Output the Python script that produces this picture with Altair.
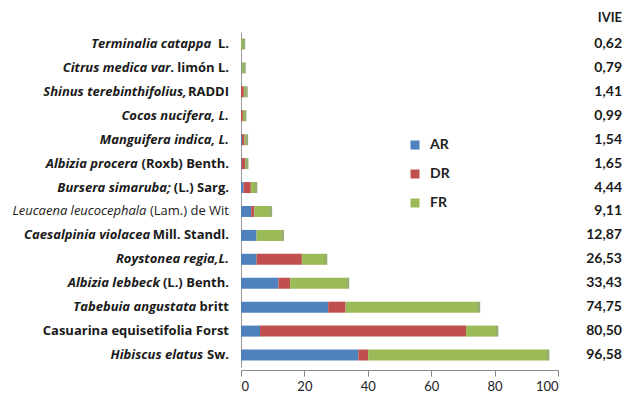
import altair as alt
import pandas as pd

# ---- data ----
keys = ["Terminalia", "Citrus", "Shinus", "Cocos", "Manguifera", "Aprocera", "Bursera",
        "Leucaena", "Caesalpinia", "Roystonea", "Alebbeck", "Tabebuia", "Casuarina", "Hibiscus"]
label_italic = ["Terminalia catappa", "Citrus medica var", "Shinus terebinthifolius,", "Cocos nucifera, L.",
                "Manguifera indica, L.", "Albizia procera", "Bursera simaruba;", "Leucaena leucocephala",
                "Caesalpinia violacea", "Roystonea regia,L.", "Albizia lebbeck", "Tabebuia angustata",
                "", "Hibiscus  elatus"]
label_plain = ["  L.", ". limón L.", "RADDI", "", "", " (Roxb) Benth.", " (L.) Sarg.", " (Lam.) de Wit",
               " Mill. Standl.", "", " (L.) Benth.", " britt", "Casuarina equisetifolia Forst", " Sw."]
label_weight = ["bold"] * 7 + ["normal"] + ["bold"] * 6

AR = [0.0, 0.2, 0.0, 0.0, 0.3, 0.2, 0.8, 3.2, 4.9, 4.9, 11.8, 27.5, 6.0, 37.0]
DR = [0.0, 0.0, 0.9, 0.6, 0.8, 1.1, 2.3, 1.0, 0.0, 14.3, 3.7, 5.5, 65.0, 3.1]
FR = [0.62, 0.59, 0.51, 0.39, 0.44, 0.35, 1.34, 4.91, 7.97, 7.33, 17.93, 41.75, 9.5, 56.48]
IVIE = [0.62, 0.79, 1.41, 0.99, 1.54, 1.65, 4.44, 9.11, 12.87, 26.53, 33.43, 74.75, 80.50, 96.58]
components = ["AR", "DR", "FR"]
colors = ["#4F81BD", "#C0504D", "#9BBB59"]
x_ticks = [0, 20, 40, 60, 80, 100]

# ---- layout helpers ----
W, H = 317, 335
PX = W / 100.0
LFONT = "Open Sans"
FONT = "Lato"
FS = {"bold": 13, "normal": 13}

_w = {'a': .60, 'b': .65, 'c': .51, 'd': .65, 'e': .59, 'f': .40, 'g': .58, 'h': .67, 'i': .29, 'j': .29,
      'k': .62, 'l': .29, 'm': .98, 'n': .67, 'o': .63, 'p': .65, 'q': .65, 'r': .45, 's': .50, 't': .43,
      'u': .67, 'v': .57, 'w': .86, 'x': .59, 'y': .57, 'z': .50, 'ó': .63, ' ': .26, '.': .29, ',': .27,
      ';': .29, '(': .33, ')': .33, 'A': .72, 'B': .68, 'C': .64, 'D': .74, 'E': .56, 'F': .54, 'I': .37,
      'L': .54, 'M': .92, 'R': .67, 'S': .56, 'W': .98, 'T': .57}


def text_width(s, weight):
    k = 0.99 if weight == "bold" else 0.93
    return sum(_w.get(ch, .65) for ch in s) * FS[weight] * k


anchor_px = -12
rows = []
for k, it, pl, wt in zip(keys, label_italic, label_plain, label_weight):
    norm_pos = anchor_px / PX
    ital_pos = (anchor_px - text_width(pl, wt) - 0.5) / PX if pl else norm_pos
    rows.append(dict(key=k, ital=it, norm=pl.strip(), ital_pos=ital_pos, norm_pos=norm_pos, weight=wt))
lab = pd.DataFrame(rows)

bars = pd.DataFrame([
    dict(key=k, comp=c, value=v, ord=j)
    for j, (c, series) in enumerate(zip(components, [AR, DR, FR]))
    for k, v in zip(keys, series)
])
tot = pd.DataFrame(dict(key=keys, ivie=IVIE, txt=[f"{v:.2f}".replace(".", ",") for v in IVIE],
                        pos=[381 / PX] * len(keys)))

yenc = alt.Y("key:N", scale=alt.Scale(domain=keys, paddingInner=0.0, paddingOuter=0.0),
             axis=alt.Axis(labels=False, ticks=False, title=None, domainColor="#9a9a9a"))
xscale = alt.Scale(domain=[0, 100], nice=False)

bar_layer = alt.Chart(bars).mark_bar(size=11).encode(
    x=alt.X("value:Q", stack="zero", scale=xscale,
            axis=alt.Axis(values=x_ticks, grid=False, title=None, tickSize=6, offset=3,
                          domainColor="#868686", tickColor="#868686", labelFontSize=13,
                          labelFont=FONT, labelColor="#222222", labelPadding=4)),
    y=yenc,
    color=alt.Color("comp:N", scale=alt.Scale(domain=components, range=colors),
                    legend=alt.Legend(orient="none", legendX=167, legendY=106, title=None,
                                      symbolType="square", symbolSize=81, labelFontSize=14,
                                      labelFontWeight="bold", labelFont=FONT, rowPadding=15,
                                      labelOffset=8, padding=0, labelColor="#222222")),
    order=alt.Order("ord:Q"),
)

cap_layer = alt.Chart(tot).mark_tick(size=11, thickness=2.5, color="#6E8B3D", xOffset=1).encode(
    x=alt.X("ivie:Q", scale=xscale), y=yenc)


def text_layer(df, field, posfield, weight, italic):
    props = dict(align="right", baseline="middle", font=LFONT, fontSize=FS[weight], fontWeight=weight,
                 color="#1a1a1a")
    if italic:
        props["fontStyle"] = "italic"
    return alt.Chart(df).mark_text(**props).encode(
        x=alt.X(f"{posfield}:Q", scale=xscale), y=yenc, text=f"{field}:N")


layers = [bar_layer, cap_layer]
for wt in ["bold", "normal"]:
    sub_i = lab[(lab.weight == wt) & (lab.ital != "")]
    sub_n = lab[(lab.weight == wt) & (lab.norm != "")]
    if len(sub_i):
        layers.append(text_layer(sub_i, "ital", "ital_pos", wt, True))
    if len(sub_n):
        layers.append(text_layer(sub_n, "norm", "norm_pos", wt, False))

layers.append(alt.Chart(tot).mark_text(align="right", baseline="middle", font=FONT, fontSize=14,
                                       fontWeight="bold", color="#1a1a1a").encode(
    x=alt.X("pos:Q", scale=xscale), y=yenc, text="txt:N"))
layers.append(alt.Chart(pd.DataFrame(dict(t=["IVIE"]))).mark_text(
    align="right", baseline="middle", font=FONT, fontSize=13, fontWeight="bold", color="#1a1a1a").encode(
    x=alt.value(381), y=alt.value(-14), text="t:N"))

chart = alt.layer(*layers).properties(
    width=W, height=H, autosize="none",
    padding={"left": 233, "top": 24, "right": 67, "bottom": 28},
    background="white",
).configure_view(stroke=None)

chart.save("out.html", embed_options={"renderer": "svg", "actions": False})
